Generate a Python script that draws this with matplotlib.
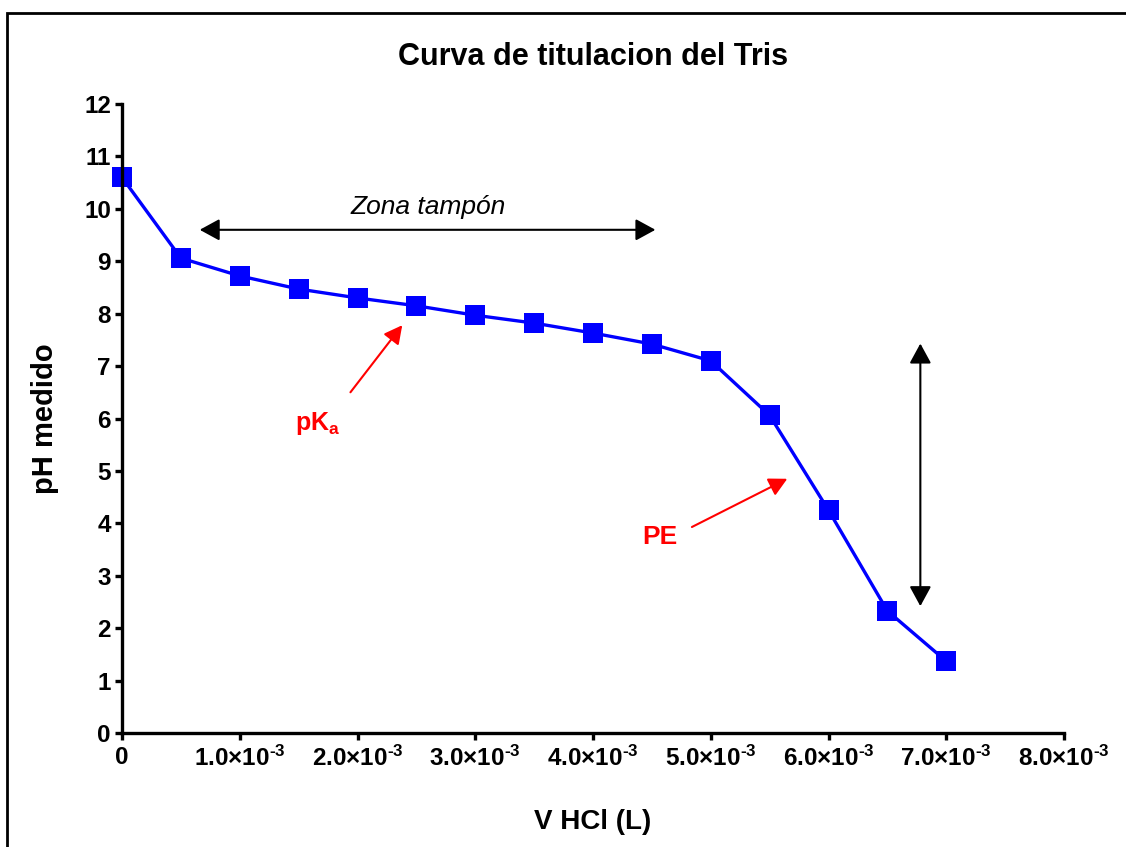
import matplotlib
matplotlib.use("Agg")
import matplotlib.pyplot as plt
from matplotlib.ticker import FuncFormatter, MultipleLocator
from matplotlib.patches import Rectangle

plt.rcParams['font.family'] = ['Liberation Sans', 'DejaVu Sans']
plt.rcParams['mathtext.fontset'] = 'custom'
plt.rcParams['mathtext.rm'] = 'Liberation Sans:bold'
plt.rcParams['mathtext.bf'] = 'Liberation Sans:bold'
plt.rcParams['mathtext.it'] = 'Liberation Sans:bold'

volume_L = [0.0, 0.5e-3, 1.0e-3, 1.5e-3, 2.0e-3, 2.5e-3, 3.0e-3, 3.5e-3,
            4.0e-3, 4.5e-3, 5.0e-3, 5.5e-3, 6.0e-3, 6.5e-3, 7.0e-3]
ph_measured = [10.6, 9.06, 8.72, 8.47, 8.30, 8.15, 7.97, 7.82,
               7.63, 7.42, 7.10, 6.06, 4.25, 2.33, 1.37]

title = "Curva de titulacion del Tris"
xlabel = "V HCl (L)"
ylabel = "pH medido"

fig = plt.figure(figsize=(11.26, 8.47), dpi=100)
ax = fig.add_axes([122/1126, 1-733/847, (1064-122)/1126, (733-104)/847])

ax.plot(volume_L, ph_measured, color='#0000FF', lw=2.4, marker='s',
        markersize=14, markeredgewidth=0, clip_on=False, zorder=2)

ax.set_xlim(0, 8e-3)
ax.set_ylim(0, 12)
ax.xaxis.set_major_locator(MultipleLocator(1e-3))
ax.yaxis.set_major_locator(MultipleLocator(1))

def xfmt(v, pos):
    if abs(v) < 1e-12:
        return "0"
    return r"$\mathbf{%.1f{\times}10^{\text{-}3}}$" % (v * 1e3)

ax.xaxis.set_major_formatter(FuncFormatter(xfmt))
ax.yaxis.set_major_formatter(FuncFormatter(lambda v, p: "%d" % round(v)))

for s in ['top', 'right']:
    ax.spines[s].set_visible(False)
for s in ['left', 'bottom']:
    ax.spines[s].set_linewidth(2.4)
ax.tick_params(direction='out', length=5, width=2.4, labelsize=17.5)
ax.tick_params(axis='x', pad=4)
ax.tick_params(axis='y', pad=3)
for lab in ax.get_xticklabels() + ax.get_yticklabels():
    lab.set_fontweight('bold')

ax.text(0.5, (733-57)/629, title, transform=ax.transAxes, fontsize=22,
        fontweight='bold', ha='center', va='center')
ax.set_xlabel(xlabel, fontsize=20, fontweight='bold', va='center')
ax.xaxis.set_label_coords(0.5, (733-822)/629)
ax.set_ylabel(ylabel, fontsize=21, fontweight='bold', va='center')
ax.yaxis.set_label_coords((45-122)/942, 0.5)

black_head = '<|-|>,head_length=0.55,head_width=0.3'
red_head = '-|>,head_length=0.5,head_width=0.26'

# Zona tampon double arrow
ax.annotate('', xy=(0.66e-3, 9.6), xytext=(4.53e-3, 9.6),
            arrowprops=dict(arrowstyle=black_head, color='black', lw=1.5,
                            mutation_scale=22, shrinkA=0, shrinkB=0))
ax.text(2.6e-3, 10.03, "Zona tampón", fontsize=19, style='italic',
        ha='center', va='center')

# pKa
ax.annotate('', xy=(2.38e-3, 7.78), xytext=(1.94e-3, 6.5),
            arrowprops=dict(arrowstyle=red_head, color='red', lw=1.5,
                            mutation_scale=22, shrinkA=0, shrinkB=0))
ax.text(1.66e-3, 5.91, r"pK$_\mathregular{a}$", fontsize=18, color='red',
        fontweight='bold', ha='center', va='center')

# PE
ax.annotate('', xy=(5.65e-3, 4.85), xytext=(4.84e-3, 3.93),
            arrowprops=dict(arrowstyle=red_head, color='red', lw=1.5,
                            mutation_scale=22, shrinkA=0, shrinkB=0))
ax.text(4.57e-3, 3.74, "PE", fontsize=19, color='red', fontweight='bold',
        ha='center', va='center')

# vertical double arrow
ax.annotate('', xy=(6.78e-3, 7.43), xytext=(6.78e-3, 2.42),
            arrowprops=dict(arrowstyle=black_head, color='black', lw=1.5,
                            mutation_scale=22, shrinkA=0, shrinkB=0))

# figure frame
fig.patches.append(Rectangle((7/1126, -0.05), 1.2, 1 - 13/847 + 0.05,
                             transform=fig.transFigure, fill=False,
                             edgecolor='black', lw=2, zorder=10))

fig.savefig("out.png", dpi=100)
